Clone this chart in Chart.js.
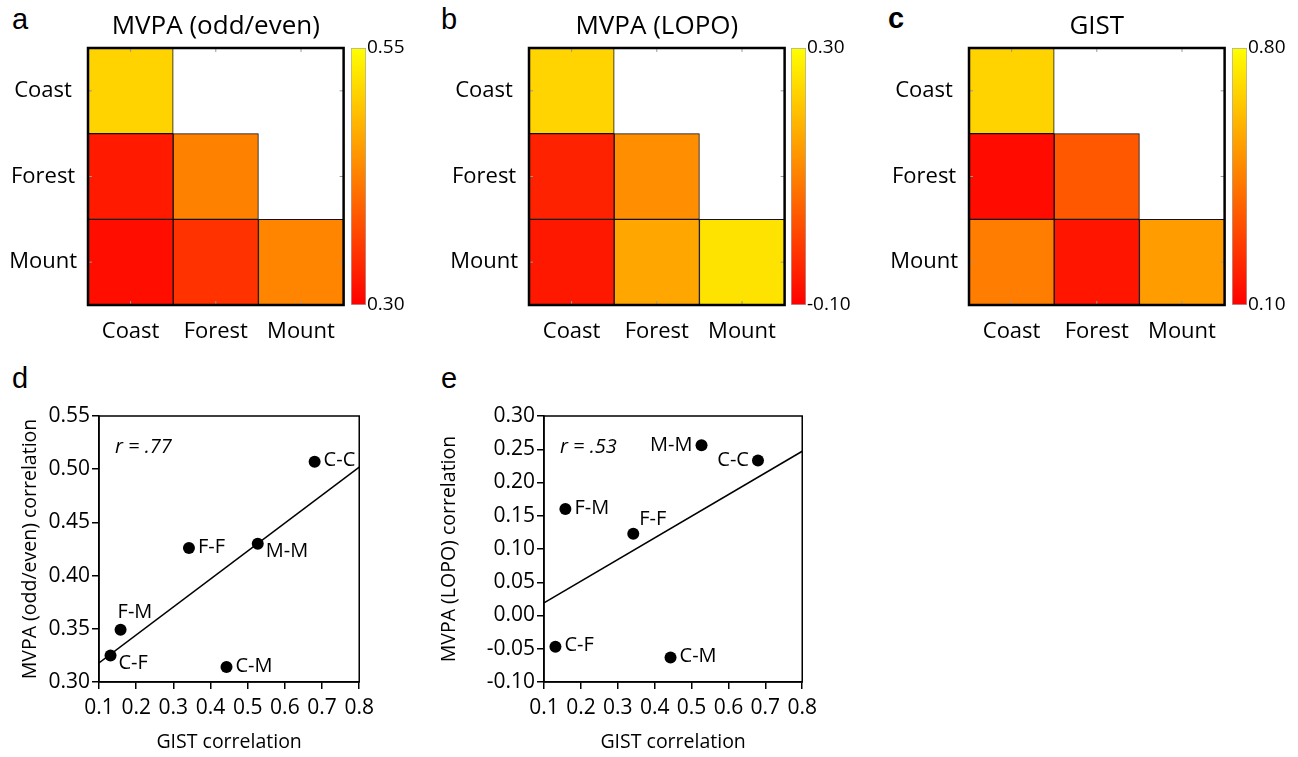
<!DOCTYPE html>
<html>
<head>
<meta charset="utf-8">
<script src="https://cdn.jsdelivr.net/npm/chart.js@4.4.0/dist/chart.umd.min.js"></script>
<style>
  body { margin: 0; background: #fff; width: 1298px; height: 757px; position: relative; overflow: hidden; }
  canvas { position: absolute; }
  .letter { position: absolute; font: 29px "Liberation Sans", Arial, sans-serif; line-height: 29px; color: #000; }
</style>
</head>
<body>
<div class="letter" style="left:12px;top:5px">a</div>
<div class="letter" style="left:441px;top:5px">b</div>
<div class="letter" style="left:888px;top:4px;font-weight:bold">c</div>
<div class="letter" style="left:12px;top:364px">d</div>
<div class="letter" style="left:441px;top:364px">e</div>

<canvas id="hmA" width="350" height="350" style="left:0;top:0"></canvas>
<canvas id="cbA" width="72" height="295" style="left:351px;top:30px"></canvas>
<canvas id="hmB" width="350" height="350" style="left:441px;top:0"></canvas>
<canvas id="cbB" width="72" height="295" style="left:791px;top:30px"></canvas>
<canvas id="hmC" width="350" height="350" style="left:881px;top:0"></canvas>
<canvas id="cbC" width="66" height="295" style="left:1232px;top:30px"></canvas>
<canvas id="scD" width="380" height="387" style="left:0;top:370px"></canvas>
<canvas id="scE" width="413" height="387" style="left:410px;top:370px"></canvas>

<script>
// categories and scene pairs
const categories = ['Coast', 'Forest', 'Mount'];
const pairLabels = ['C-C', 'F-F', 'M-M', 'C-F', 'C-M', 'F-M'];

// correlations per pair
const gistPairs = [0.680, 0.342, 0.527, 0.131, 0.443, 0.158];
const oddEvenPairs = [0.507, 0.426, 0.430, 0.325, 0.314, 0.349];
const lopoPairs = [0.233, 0.123, 0.256, -0.047, -0.063, 0.160];

// colour scale ranges
const rangeOddEven = [0.30, 0.55];
const rangeLopo = [-0.10, 0.30];
const rangeGist = [0.10, 0.80];

// regression lines, y at x = 0.1 and x = 0.8
const fitX = [0.1, 0.8];
const fitOddEven = [0.318, 0.502];
const fitLopo = [0.019, 0.247];

const FONT = '"Open Sans", sans-serif';

// autumn colormap: red -> yellow
function heatColor(v, range) {
  let t = (v - range[0]) / (range[1] - range[0]);
  t = Math.max(0, Math.min(1, t));
  return 'rgb(255,' + Math.round(255 * t) + ',0)';
}

function cellValue(vals, i, j) {
  const name = categories[Math.min(i, j)][0] + '-' + categories[Math.max(i, j)][0];
  return vals[pairLabels.indexOf(name)];
}

// frame + small inner ticks for the heatmaps
const heatFrame = {
  id: 'heatFrame',
  afterDatasetsDraw(chart) {
    const { ctx, chartArea: a, scales } = chart;
    ctx.save();
    ctx.strokeStyle = '#999';
    ctx.lineWidth = 1;
    ctx.beginPath();
    categories.forEach((c, k) => {
      const x = scales.x.getPixelForValue(k);
      ctx.moveTo(x, a.top); ctx.lineTo(x, a.top + 4);
      ctx.moveTo(x, a.bottom); ctx.lineTo(x, a.bottom - 4);
      const y = scales.y.getPixelForValue(k + 0.5);
      ctx.moveTo(a.left, y); ctx.lineTo(a.left + 4, y);
      ctx.moveTo(a.right, y); ctx.lineTo(a.right - 4, y);
    });
    ctx.stroke();
    ctx.strokeStyle = '#000';
    ctx.lineWidth = 2.5;
    ctx.strokeRect(a.left, a.top, a.right - a.left, a.bottom - a.top);
    ctx.restore();
  }
};

function makeHeatmap(id, title, vals, range) {
  const datasets = categories.map((rowName, i) => ({
    label: rowName,
    data: categories.map((c, j) => (j <= i ? [i, i + 1] : null)),
    backgroundColor: categories.map((c, j) => (j <= i ? heatColor(cellValue(vals, i, j), range) : 'rgba(0,0,0,0)')),
    borderColor: '#111',
    borderWidth: 1,
    borderSkipped: false,
    barPercentage: 1,
    categoryPercentage: 1,
    grouped: false
  }));
  new Chart(document.getElementById(id), {
    type: 'bar',
    data: { labels: categories, datasets: datasets },
    options: {
      responsive: false,
      animation: false,
      layout: { padding: { right: 5 } },
      plugins: {
        legend: { display: false },
        tooltip: { enabled: false },
        title: {
          display: true, text: title, fullSize: false, color: '#000',
          font: { family: FONT, size: 26, weight: 'normal' },
          padding: { top: 11, bottom: 5.8 }
        }
      },
      scales: {
        x: {
          grid: { display: false, drawTicks: false }, border: { display: false },
          ticks: { color: '#000', padding: 14, font: { family: FONT, size: 22 } },
          afterFit(s) { s.height = 45; }
        },
        y: {
          type: 'linear', min: 0, max: 3, reverse: true,
          grid: { display: false, drawTicks: false }, border: { display: false },
          afterBuildTicks(s) { s.ticks = categories.map((c, k) => ({ value: k + 0.5 })); },
          ticks: {
            color: '#000', padding: 11, crossAlign: 'center', font: { family: FONT, size: 22 },
            callback: v => categories[Math.floor(v)]
          },
          afterFit(s) { s.width = 88; }
        }
      }
    },
    plugins: [heatFrame]
  });
}

function makeColorbar(id, range) {
  new Chart(document.getElementById(id), {
    type: 'bar',
    data: {
      labels: [''],
      datasets: [{
        data: [range],
        backgroundColor(c) {
          const a = c.chart.chartArea;
          if (!a) return 'red';
          const g = c.chart.ctx.createLinearGradient(0, a.bottom, 0, a.top);
          g.addColorStop(0, heatColor(range[0], range));
          g.addColorStop(0.5, heatColor((range[0] + range[1]) / 2, range));
          g.addColorStop(1, heatColor(range[1], range));
          return g;
        },
        borderColor: '#aaa', borderWidth: 1, borderSkipped: false,
        barPercentage: 1, categoryPercentage: 1
      }]
    },
    options: {
      responsive: false,
      animation: false,
      layout: { padding: { top: 18, bottom: 20 } },
      plugins: { legend: { display: false }, tooltip: { enabled: false } },
      scales: {
        x: { display: false },
        y: {
          position: 'right', min: range[0], max: range[1],
          grid: { display: false, drawTicks: false }, border: { display: false },
          afterBuildTicks(s) { s.ticks = range.map(v => ({ value: v })); },
          ticks: { color: '#000', padding: 1, font: { family: FONT, size: 19 }, callback: v => v.toFixed(2) },
          afterFit(s) { s.width = s.chart.width - 15; }
        }
      }
    }
  });
}

const labelSpots = {
  right: { dx: 9, dy: -1, align: 'left' },
  rightBelow: { dx: 8, dy: 8, align: 'left' },
  above: { dx: -3, dy: -18, align: 'left' },
  aboveRight: { dx: 6, dy: -14, align: 'left' },
  left: { dx: -9, dy: 0, align: 'right' }
};
// order follows pairLabels
const spotsOddEven = ['right', 'right', 'rightBelow', 'rightBelow', 'right', 'above'];
const spotsLopo = ['left', 'aboveRight', 'left', 'right', 'right', 'right'];

function makeScatter(id, yVals, yRange, fit, rText, yTitle, yAxisWidth, yTitlePad, spots) {
  const annotate = {
    id: 'annotate',
    afterDatasetsDraw(chart) {
      const { ctx, chartArea: a } = chart;
      ctx.save();
      ctx.strokeStyle = '#000';
      ctx.lineWidth = 1.5;
      ctx.strokeRect(a.left, a.top, a.right - a.left, a.bottom - a.top);
      ctx.fillStyle = '#000';
      ctx.textBaseline = 'middle';
      ctx.font = '20px ' + FONT;
      chart.getDatasetMeta(1).data.forEach((pt, k) => {
        const s = labelSpots[spots[k]];
        ctx.textAlign = s.align;
        ctx.fillText(pairLabels[k], pt.x + s.dx, pt.y + s.dy);
      });
      ctx.textAlign = 'left';
      ctx.font = 'italic 20px ' + FONT;
      ctx.fillText(rText, a.left + 16, a.top + 31);
      ctx.restore();
    }
  };
  new Chart(document.getElementById(id), {
    type: 'scatter',
    data: {
      datasets: [
        {
          data: fitX.map((x, k) => ({ x: x, y: fit[k] })),
          showLine: true, borderColor: '#000', borderWidth: 1.5, pointRadius: 0
        },
        {
          data: gistPairs.map((x, k) => ({ x: x, y: yVals[k] })),
          pointRadius: 6, backgroundColor: '#000', borderWidth: 0
        }
      ]
    },
    options: {
      responsive: false,
      animation: false,
      layout: { padding: { top: 46, right: 14 } },
      plugins: { legend: { display: false }, tooltip: { enabled: false } },
      scales: {
        x: {
          min: 0.1, max: 0.8,
          grid: { drawOnChartArea: false, tickLength: 7, color: '#000', lineWidth: 1.5 },
          border: { color: '#000', width: 1.5 },
          ticks: { stepSize: 0.1, color: '#000', padding: 6, font: { family: FONT, size: 21 }, callback: v => v.toFixed(1) },
          title: { display: true, text: 'GIST correlation', color: '#000', font: { family: FONT, size: 19.5 }, padding: { bottom: 3 } },
          afterFit(s) { s.height = 75; }
        },
        y: {
          min: yRange[0], max: yRange[1],
          grid: { drawOnChartArea: false, tickLength: 7, color: '#000', lineWidth: 1.5 },
          border: { color: '#000', width: 1.5 },
          ticks: {
            stepSize: 0.05, color: '#000', padding: 2, font: { family: FONT, size: 21 },
            callback: v => (Math.abs(v) < 1e-9 ? 0 : v).toFixed(2)
          },
          title: { display: true, text: yTitle, color: '#000', font: { family: FONT, size: 19.5 }, padding: { top: yTitlePad } },
          afterFit(s) { s.width = yAxisWidth; }
        }
      }
    },
    plugins: [annotate]
  });
}

makeHeatmap('hmA', 'MVPA (odd/even)', oddEvenPairs, rangeOddEven);
makeColorbar('cbA', rangeOddEven);
makeHeatmap('hmB', 'MVPA (LOPO)', lopoPairs, rangeLopo);
makeColorbar('cbB', rangeLopo);
makeHeatmap('hmC', 'GIST', gistPairs, rangeGist);
makeColorbar('cbC', rangeGist);

makeScatter('scD', oddEvenPairs, [0.30, 0.55], fitOddEven, 'r = .77', 'MVPA (odd/even) correlation', 99, 19, spotsOddEven);
makeScatter('scE', lopoPairs, [-0.10, 0.30], fitLopo, 'r = .53', 'MVPA (LOPO) correlation', 134, 28, spotsLopo);
</script>
</body>
</html>
